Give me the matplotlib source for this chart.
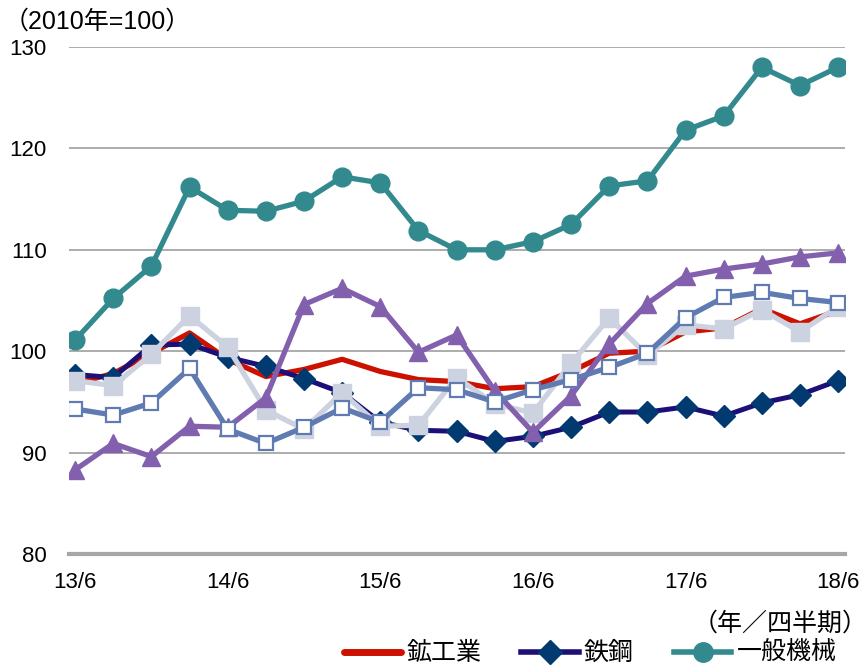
import matplotlib.pyplot as plt
from matplotlib.lines import Line2D

plt.rcParams['font.family'] = ['Liberation Sans', 'Noto Sans CJK JP', 'DejaVu Sans']

# 13/6 .. 18/6, quarterly
quarters = list(range(21))
tick_pos = [0, 4, 8, 12, 16, 20]
tick_labels = ["13/6", "14/6", "15/6", "16/6", "17/6", "18/6"]

mining = [96.8, 97.8, 99.8, 101.8, 99.2, 97.5, 98.2, 99.2, 98.0, 97.2, 97.0,
          96.3, 96.5, 98.0, 99.8, 100.0, 101.9, 102.3, 104.2, 102.7, 104.0]
steel = [97.7, 97.4, 100.6, 100.7, 99.4, 98.5, 97.3, 95.9, 93.0, 92.2, 92.1,
         91.1, 91.6, 92.5, 94.0, 94.0, 94.5, 93.6, 94.9, 95.7, 97.1]
machinery = [101.1, 105.2, 108.4, 116.2, 113.9, 113.8, 114.8, 117.2, 116.6, 111.9, 110.0,
             110.0, 110.8, 112.5, 116.3, 116.8, 121.8, 123.2, 128.0, 126.2, 128.0]
purple_s = [88.3, 90.9, 89.6, 92.6, 92.5, 95.4, 104.6, 106.2, 104.4, 99.9, 101.6,
            96.1, 92.0, 95.6, 100.7, 104.7, 107.4, 108.1, 108.6, 109.3, 109.7]
gray_s = [97.1, 96.6, 99.7, 103.5, 100.4, 94.2, 92.3, 95.9, 92.6, 92.7, 97.4,
          94.8, 93.9, 98.8, 103.3, 99.6, 102.6, 102.2, 104.1, 101.9, 104.4]
blue_s = [94.3, 93.7, 94.9, 98.3, 92.3, 90.9, 92.5, 94.4, 93.0, 96.4, 96.2,
          95.0, 96.2, 97.2, 98.4, 99.8, 103.3, 105.3, 105.8, 105.2, 104.8]

cjk = ["Noto Sans CJK JP", "DejaVu Sans"]

fig = plt.figure(figsize=(8.68, 6.68), dpi=100)
ax = fig.add_axes([0.0795, 0.1707, 0.894, 0.7589])

ax.plot(quarters, mining, color="#CC1100", lw=3.8, solid_joinstyle="round", zorder=3)
ax.plot(quarters, steel, color="#1C1078", lw=3.6, marker="D", ms=11,
        mfc="#003A70", mec="#003A70", zorder=4)
ax.plot(quarters, machinery, color="#338A8E", lw=3.8, marker="o", ms=13.5,
        mfc="#338A8E", mec="#338A8E", zorder=5)
ax.plot(quarters, gray_s, color="#CDD2E0", lw=3.8, marker="s", ms=13,
        mfc="#CDD2E0", mec="#CDD2E0", zorder=6)
ax.plot(quarters, purple_s, color="#8260AE", lw=3.8, marker="^", ms=13,
        mfc="#8260AE", mec="#8260AE", zorder=7)
ax.plot(quarters, blue_s, color="#5F7BB2", lw=3.8, marker="s", ms=10,
        mfc="white", mec="#5F7BB2", mew=1.6, zorder=8)

ax.set_xlim(-0.16, 20.18)
ax.set_ylim(80, 130)
ax.set_yticks([80, 90, 100, 110, 120, 130])
ax.set_xticks(tick_pos)
ax.set_xticklabels(tick_labels)
ax.tick_params(length=0, labelsize=16, pad=13)
ax.tick_params(axis="y", pad=16)
ax.grid(axis="y", color="#A6A6A6", lw=1.3, zorder=0)
for s in ["top", "right", "left"]:
    ax.spines[s].set_visible(False)
ax.spines["bottom"].set_color("#A6A6A6")
ax.spines["bottom"].set_linewidth(3)

fig.text(0.004, 0.968, "（2010年=100）", fontsize=18, ha="left", va="center",
         family=["Liberation Sans", "Noto Sans CJK JP"])
fig.text(0.999, 0.067, "（年／四半期）", fontsize=18, ha="right", va="center", family=cjk)

handles = [
    Line2D([], [], color="#CC1100", lw=5, solid_capstyle="round"),
    Line2D([], [], color="#1C1078", lw=4, marker="D", ms=12, mfc="#003A70", mec="#003A70"),
    Line2D([], [], color="#338A8E", lw=4, marker="o", ms=14, mfc="#338A8E", mec="#338A8E"),
]
fig.legend(handles, ["鉱工業", "鉄鋼", "一般機械"], loc="center", bbox_to_anchor=(0.68, 0.022),
           ncol=3, frameon=False, handlelength=2.3, handletextpad=0.2, columnspacing=1.6,
           borderpad=0, prop={"family": cjk, "size": 18})

fig.savefig("out.png", dpi=100)
